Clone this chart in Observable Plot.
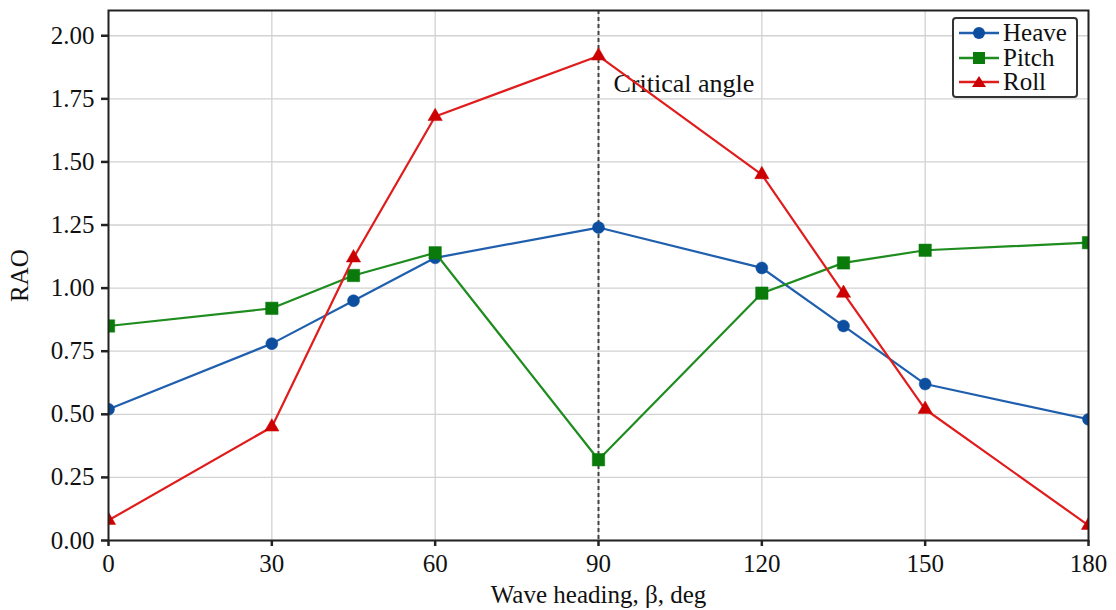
<!DOCTYPE html>
<html>
<head>
<meta charset="utf-8">
<script src="https://cdn.jsdelivr.net/npm/d3@7"></script>
<script src="https://cdn.jsdelivr.net/npm/@observablehq/plot@0.6"></script>
<style>
  html, body { margin: 0; padding: 0; background: #fff; }
  #wrap { position: relative; width: 1116px; height: 610px; }
  .legend { position: absolute; left: 952px; top: 17px; width: 122px; height: 77px;
            border: 2px solid #333; border-radius: 4px; background: #fff;
            font-family: "Liberation Serif", serif; font-size: 25px; color: #111; }
  .legend .row { position: absolute; left: 4px; height: 22px; display: flex; align-items: center; }
  .legend svg { width: 42px; height: 20px; }
  .legend span { margin-left: 3px; line-height: 22px; display: inline-block; height: 22px; }
</style>
</head>
<body>
<div id="wrap"></div>
<script>
// Wave headings (deg) and response amplitude operators per motion
const headings = [0, 30, 45, 60, 90, 120, 135, 150, 180];
const heave = [0.52, 0.78, 0.95, 1.12, 1.24, 1.08, 0.85, 0.62, 0.48];
const pitch = [0.85, 0.92, 1.05, 1.14, 0.32, 0.98, 1.10, 1.15, 1.18];
const roll  = [0.08, 0.45, 1.12, 1.68, 1.92, 1.45, 0.98, 0.52, 0.06];
const xTicks = [0, 30, 60, 90, 120, 150, 180];
const yTicks = [0, 0.25, 0.5, 0.75, 1.0, 1.25, 1.5, 1.75, 2.0];
const criticalAngle = 90;

const series = [
  {name: "Heave", values: heave, line: "#1f5fae", fill: "#0d4f9e", symbol: "circle", r: 6},
  {name: "Pitch", values: pitch, line: "#1e8c1e", fill: "#0a7a0a", symbol: "square", r: 7},
  {name: "Roll",  values: roll,  line: "#e01c1c", fill: "#cc0000", symbol: "triangle", r: 5.3}
];

const rows = series.flatMap(s => headings.map((h, i) => ({heading: h, rao: s.values[i], name: s.name})));

const font = "Liberation Serif, Times New Roman, serif";

const marks = [
  Plot.gridX(xTicks, {stroke: "#d2d2d2", strokeOpacity: 1, strokeWidth: 1.3}),
  Plot.gridY(yTicks, {stroke: "#d2d2d2", strokeOpacity: 1, strokeWidth: 1.3}),
  Plot.ruleX([criticalAngle], {stroke: "#444", strokeWidth: 2, strokeDasharray: "4,3"}),
  Plot.text(["Critical angle"], {x: criticalAngle, y: 1.81, dx: 15, text: d => d, textAnchor: "start",
    fontSize: 26, fill: "#111", fontFamily: font})
];
for (const s of series) {
  const data = rows.filter(d => d.name === s.name);
  marks.push(Plot.line(data, {x: "heading", y: "rao", stroke: s.line, strokeWidth: 2.2, clip: true}));
  marks.push(Plot.dot(data, {x: "heading", y: "rao", symbol: () => s.symbol, fill: s.fill, stroke: s.fill,
    strokeWidth: 0.5, r: s.r, clip: true}));
}
marks.push(Plot.frame({stroke: "#222", strokeWidth: 2}));
marks.push(Plot.axisX(xTicks, {tickSize: 6, tickPadding: 8, fontSize: 25, fontFamily: font, stroke: "#222",
  strokeWidth: 2.5, label: "Wave heading, β, deg", labelAnchor: "center", labelArrow: "none",
  labelOffset: 62, color: "#111"}));
marks.push(Plot.axisY(yTicks, {tickSize: 7, tickPadding: 7, fontSize: 25, fontFamily: font, stroke: "#222",
  strokeWidth: 2.5, tickFormat: d3.format(".2f"), label: "RAO", labelAnchor: "center", labelArrow: "none",
  labelOffset: 98, color: "#111"}));

const chart = Plot.plot({
  width: 1116,
  height: 610,
  marginLeft: 108,
  marginRight: 28,
  marginTop: 10,
  marginBottom: 70,
  style: {fontFamily: font, fontSize: "25px", color: "#111", background: "#fff"},
  x: {domain: [0, 180]},
  y: {domain: [0, 2.1]},
  marks
});

const wrap = document.getElementById("wrap");
wrap.appendChild(chart);

// Legend drawn as HTML over the plot frame
const legend = document.createElement("div");
legend.className = "legend";
const symbolSvg = s => {
  let m;
  if (s.symbol === "circle") m = `<circle cx="21" cy="10" r="6" fill="${s.fill}"/>`;
  else if (s.symbol === "square") m = `<rect x="15" y="4" width="12" height="12" fill="${s.fill}"/>`;
  else m = `<path d="M21,4 L28,15 L14,15 Z" fill="${s.fill}"/>`;
  return `<svg viewBox="0 0 42 20"><line x1="1" x2="41" y1="10" y2="10" stroke="${s.line}" stroke-width="2.5"/>${m}</svg>`;
};
series.forEach((s, i) => {
  const row = document.createElement("div");
  row.className = "row";
  row.style.top = (3 + i * 24.5) + "px";
  row.innerHTML = symbolSvg(s) + `<span>${s.name}</span>`;
  legend.appendChild(row);
});
wrap.appendChild(legend);
</script>
</body>
</html>
